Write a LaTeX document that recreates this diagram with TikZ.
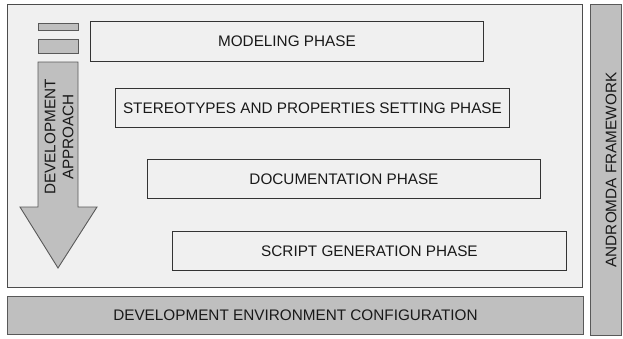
\documentclass[tikz,border=0pt]{standalone}
\usepackage{fontspec}
\setmainfont{Liberation Sans}
\begin{document}
\begin{tikzpicture}[x=1pt,y=-1pt,
  every node/.style={font=\fontsize{15.3}{18}\selectfont, inner sep=0pt, text=black!90},
  panel/.style={draw=black!70, fill=black!6, line width=0.9pt},
  phasebox/.style={draw=black!80, fill=black!6, line width=0.9pt, anchor=north west},
  bar/.style={draw=black!65, fill=black!25, line width=0.9pt, anchor=north west},
  flowarrow/.style={draw=black!65, fill=black!25, line width=0.9pt}]
\useasboundingbox (0,0) rectangle (623,338);

% main panel
\node[panel, anchor=north west, minimum width=575pt, minimum height=283pt] (panel) at (7,4) {};

% side and bottom bars
\node[bar, minimum width=31pt, minimum height=331pt] (fw) at (590,4) {};
\node[rotate=90] (fwlabel) at (611,170) {ANDROMDA FRAMEWORK};
\node[bar, minimum width=576pt, minimum height=38pt] (env) at (7,296) {};
\node (envlabel) at (env.center) {DEVELOPMENT ENVIRONMENT CONFIGURATION};

% phases
\node[phasebox, minimum width=393pt, minimum height=40pt] (modeling) at (90,21) {};
\node at (modeling.center) {MODELING PHASE};
\node[phasebox, minimum width=394pt, minimum height=39pt] (stereo) at (115,88) {};
\node at (stereo.center) {STEREOTYPES AND PROPERTIES SETTING PHASE};
\node[phasebox, minimum width=393pt, minimum height=39pt] (doc) at (147,159) {};
\node at (doc.center) {DOCUMENTATION PHASE};
\node[phasebox, minimum width=394pt, minimum height=39pt] (script) at (172,231) {};
\node at (script.center) {SCRIPT GENERATION PHASE};

% development approach arrow
\node[bar, minimum width=40pt, minimum height=7pt] (tick1) at (38,23) {};
\node[bar, minimum width=40pt, minimum height=14pt] (tick2) at (38,39) {};
\draw[flowarrow] (38,62) -- (78,62) -- (78,207) -- (97,207) -- (58,268)
  -- (20,207) -- (38,207) -- cycle;
\node[rotate=90, align=center] (approach) at (59,137)
  {DEVELOPMENT\\APPROACH};
\end{tikzpicture}
\end{document}
